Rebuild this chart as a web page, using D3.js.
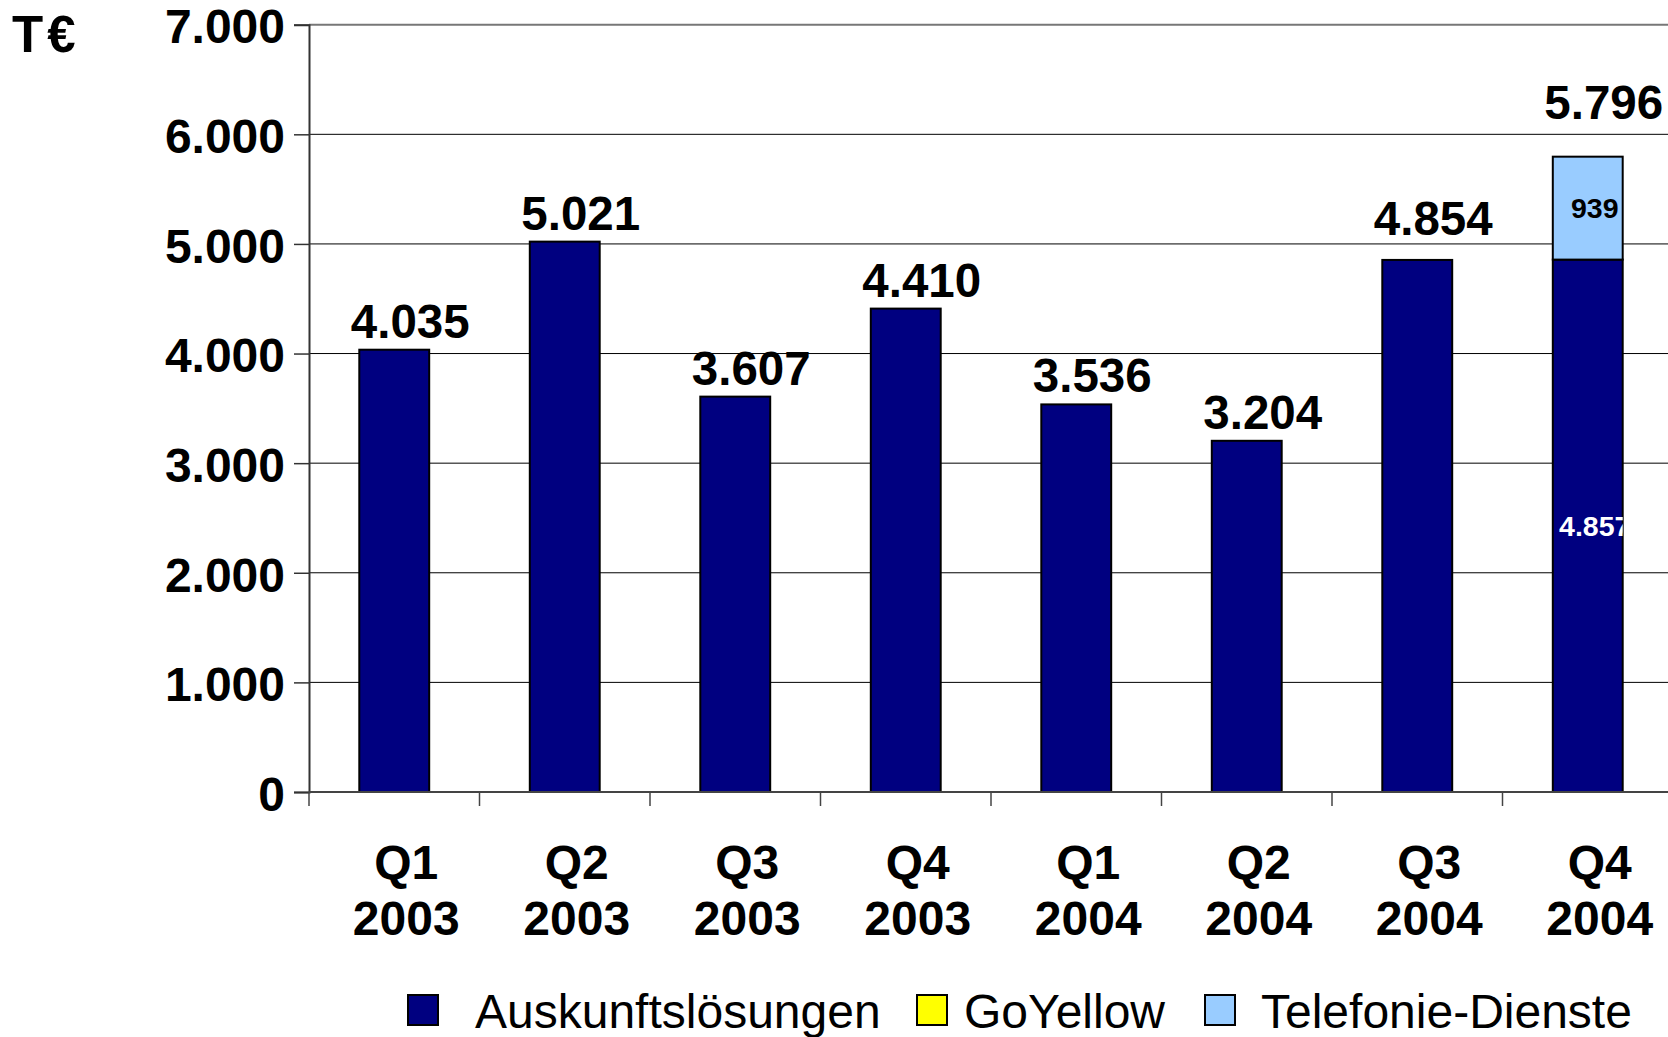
<!DOCTYPE html>
<html>
<head>
<meta charset="utf-8">
<script src="https://cdn.jsdelivr.net/npm/d3@7"></script>
<style>
  html, body { margin: 0; padding: 0; background: #fff; overflow: hidden; }
  svg { display: block; font-family: "Liberation Sans", Arial, sans-serif; }
</style>
</head>
<body>
<svg id="chart" width="1668" height="1037"></svg>
<script>
// ---- data ----
const quarters = ["Q1", "Q2", "Q3", "Q4", "Q1", "Q2", "Q3", "Q4"];
const years = ["2003", "2003", "2003", "2003", "2004", "2004", "2004", "2004"];
// null = series not present in that quarter, 0 = present but empty
const auskunft = [4035, 5021, 3607, 4410, 3536, 3204, 4854, 4857];
const goYellow = [null, null, null, null, null, null, null, 0];
const telefonie = [null, null, null, null, null, null, 0, 939];
const seriesNames = ["Auskunftslösungen", "GoYellow", "Telefonie-Dienste"];
const seriesColors = ["#000080", "#FFFF00", "#99CCFF"];
const yTicks = [0, 1000, 2000, 3000, 4000, 5000, 6000, 7000];
const unitLabel = "T€";

// ---- setup ----
const W = 1668;
const svg = d3.select("#chart");
const de = d3.formatLocale({ decimal: ",", thousands: ".", grouping: [3], currency: ["", "€"] });
const fmt = de.format(",d");

const plotLeft = 309, plotBottom = 792, plotTop = 24.7;
const step = 170.5;
const keys = quarters.map((q, i) => i);

const x = d3.scaleBand()
  .domain(keys)
  .range([plotLeft, plotLeft + step * keys.length])
  .paddingInner(0.59)
  .paddingOuter(0.295);
const y = d3.scaleLinear().domain([0, 7000]).range([plotBottom, plotTop]);

const rows = keys.map(i => ({
  i,
  a: auskunft[i] || 0, g: goYellow[i] || 0, t: telefonie[i] || 0,
  n: [auskunft[i], goYellow[i], telefonie[i]].filter(v => v !== null).length
}));
const stacked = d3.stack().keys(["a", "g", "t"])(rows);

// gridlines
svg.append("g").selectAll("line")
  .data(yTicks.filter(v => v > 0))
  .join("line")
  .attr("x1", plotLeft).attr("x2", W)
  .attr("y1", d => y(d)).attr("y2", d => y(d))
  .attr("stroke", d => d === 7000 ? "#777" : "#000")
  .attr("stroke-width", d => d === 7000 ? 2 : 1);

// y axis
const yAxis = svg.append("g")
  .attr("transform", `translate(${plotLeft},0)`)
  .call(d3.axisLeft(y).tickValues(yTicks).tickFormat(fmt).tickSize(15).tickPadding(9));
yAxis.select(".domain").attr("stroke", "#333").attr("stroke-width", 2);
yAxis.selectAll(".tick line").attr("stroke", "#333").attr("stroke-width", 1.5);
yAxis.selectAll(".tick text")
  .attr("font-family", "Liberation Sans, Arial, sans-serif")
  .attr("font-size", 48).attr("font-weight", "bold").attr("fill", "#000")
  .attr("dy", "0.38em");

// bars
const segs = svg.append("g");
stacked.forEach((layer, li) => {
  segs.append("g").selectAll("rect")
    .data(layer.filter(d => d[1] - d[0] > 0))
    .join("rect")
    .attr("x", d => x(d.data.i))
    .attr("width", x.bandwidth())
    .attr("y", d => y(d[1]))
    .attr("height", d => y(d[0]) - y(d[1]))
    .attr("fill", seriesColors[li])
    .attr("stroke", "#000")
    .attr("stroke-width", 2);
});

// x axis baseline + band ticks
svg.append("line")
  .attr("x1", plotLeft).attr("x2", W)
  .attr("y1", y(0)).attr("y2", y(0))
  .attr("stroke", "#444").attr("stroke-width", 2);
svg.append("g").selectAll("line")
  .data(d3.range(keys.length + 1))
  .join("line")
  .attr("x1", d => plotLeft + d * x.step()).attr("x2", d => plotLeft + d * x.step())
  .attr("y1", y(0)).attr("y2", y(0) + 14)
  .attr("stroke", "#444").attr("stroke-width", 1.5);

// category labels
const cat = svg.append("g").attr("font-size", 48).attr("font-weight", "bold").attr("text-anchor", "middle");
cat.selectAll("text.q").data(keys).join("text").attr("class", "q")
  .attr("x", d => x(d) + x.bandwidth() / 2 + 12).attr("y", 879)
  .text(d => quarters[d]);
cat.selectAll("text.yr").data(keys).join("text").attr("class", "yr")
  .attr("x", d => x(d) + x.bandwidth() / 2 + 12).attr("y", 935)
  .text(d => years[d]);

// total labels above bars
const totals = rows.map(r => r.a + r.g + r.t);
svg.append("g").attr("font-size", 47.5).attr("font-weight", "bold").attr("text-anchor", "middle")
  .selectAll("text").data(rows).join("text")
  .attr("x", d => x(d.i) + x.bandwidth() / 2 + 16)
  .attr("y", d => y(totals[d.i]) - (12 + 13 * (d.n - 1)))
  .text(d => fmt(totals[d.i]));

// inner segment labels for stacked bars
const defs = svg.append("defs");
rows.filter(r => (r.g + r.t) > 0).forEach(r => {
  const cid = "clip" + r.i;
  defs.append("clipPath").attr("id", cid).append("rect")
    .attr("x", x(r.i)).attr("width", x.bandwidth())
    .attr("y", y(totals[r.i])).attr("height", y(0) - y(totals[r.i]));
  const cx = x(r.i) + x.bandwidth() / 2 + 7;
  const g = svg.append("g").attr("clip-path", `url(#${cid})`)
    .attr("font-size", 28.5).attr("font-weight", "bold").attr("text-anchor", "middle");
  stacked.forEach((layer, li) => {
    const d = layer[r.i];
    if (d[1] - d[0] <= 0) return;
    g.append("text")
      .attr("x", cx)
      .attr("y", (y(d[0]) + y(d[1])) / 2)
      .attr("dy", "0.36em")
      .attr("fill", li === 0 ? "#fff" : "#000")
      .text(fmt(d[1] - d[0]));
  });
});

// unit label
svg.append("text").attr("x", 12).attr("y", 52)
  .attr("font-size", 51).attr("font-weight", "bold").attr("letter-spacing", 4).text(unitLabel);

// legend (layout positions of swatches and texts)
const legSwatchX = [408, 917, 1205];
const legTextX = [475, 964, 1261];
const leg = svg.append("g");
seriesNames.forEach((name, i) => {
  leg.append("rect").attr("x", legSwatchX[i]).attr("y", 995).attr("width", 30).attr("height", 30)
    .attr("fill", seriesColors[i]).attr("stroke", "#000").attr("stroke-width", 2);
  leg.append("text").attr("x", legTextX[i]).attr("y", 1028)
    .attr("font-size", 48).attr("fill", "#000").text(name);
});
</script>
</body>
</html>
